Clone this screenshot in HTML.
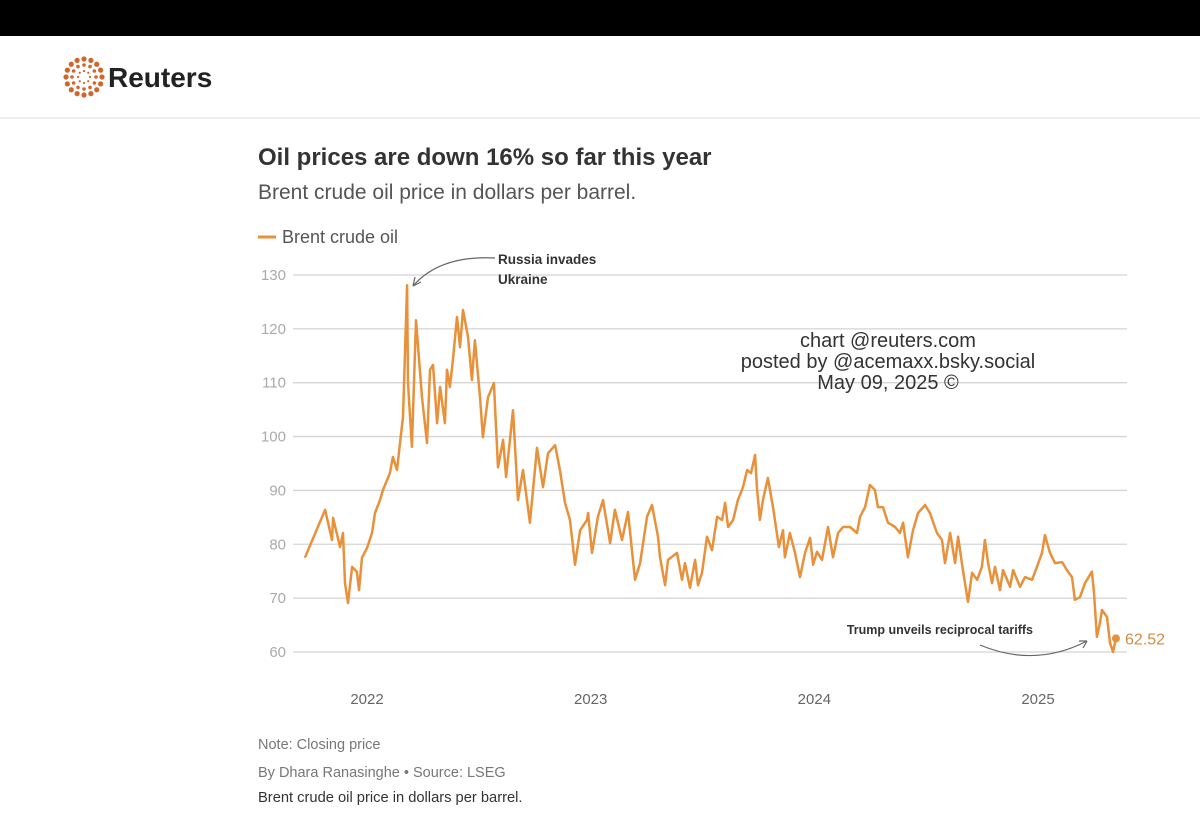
<!DOCTYPE html>
<html><head><meta charset="utf-8"><style>
html,body{margin:0;padding:0;background:#fff;}
svg{display:block;font-family:"Liberation Sans",sans-serif;}
</style></head><body>
<svg id="chart" width="1200" height="827" viewBox="0 0 1200 827">
<rect x="0" y="0" width="1200" height="36" fill="#000"/>
<g id="logo"></g>
<text x="108" y="87" font-size="28" font-weight="bold" fill="#222">Reuters</text>
<line x1="0" y1="118" x2="1200" y2="118" stroke="#ddd" stroke-width="1"/>
<text x="258" y="165" font-size="24" font-weight="bold" fill="#333">Oil prices are down 16% so far this year</text>
<text x="258" y="199" font-size="21" fill="#555">Brent crude oil price in dollars per barrel.</text>
<g>
<line x1="258" y1="237" x2="276" y2="237" stroke="#e8913a" stroke-width="3"/>
<text x="282" y="243" font-size="18" fill="#555">Brent crude oil</text>
</g>
<g id="grid"></g>
<g id="yticks"></g>
<g id="xticks"></g>
<g font-size="20" fill="#333" text-anchor="middle">
<text x="888" y="347">chart @reuters.com</text>
<text x="888" y="368">posted by @acemaxx.bsky.social</text>
<text x="888" y="389">May 09, 2025 ©</text>
</g>
<path id="line" fill="none" stroke="#e8913a" stroke-width="2.5" stroke-linejoin="round"/>
<circle id="enddot" r="4" fill="#e8913a"/>
<text id="endlabel" font-size="16" fill="#d08c4a">62.52</text>
<g>
<path d="M495,258 Q440,255 413,286" fill="none" stroke="#666" stroke-width="1.2"/>
<path d="M413,286 l2,-9 M413,286 l8,-4" fill="none" stroke="#666" stroke-width="1.2"/>
<text x="498" y="264" font-size="13.5" font-weight="bold" fill="#333">Russia invades</text>
<text x="498" y="284" font-size="13.5" font-weight="bold" fill="#333">Ukraine</text>
</g>
<g>
<text x="1033" y="634" font-size="12.5" font-weight="bold" fill="#333" text-anchor="end">Trump unveils reciprocal tariffs</text>
<path d="M980,645 Q1035,668 1087,641" fill="none" stroke="#666" stroke-width="1.2"/>
<path d="M1087,641 l-8,0 M1087,641 l-4,7" fill="none" stroke="#666" stroke-width="1.2"/>
</g>
<text x="258" y="749" font-size="14.5" fill="#777">Note: Closing price</text>
<text x="258" y="777" font-size="14.5" fill="#777">By Dhara Ranasinghe  • Source: LSEG</text>
<text x="258" y="802" font-size="14.7" fill="#333">Brent crude oil price in dollars per barrel.</text>
</svg>
<script>
// months since Jan 2022
const months=[-3.33,-2.25,-1.88,-1.82,-1.45,-1.29,-1.18,-1.02,-0.80,-0.54,-0.43,-0.27,0,0.27,0.43,0.70,0.86,1.23,1.39,1.61,1.77,1.93,2.15,2.20,2.41,2.63,2.95,3.22,3.38,3.54,3.76,3.92,4.18,4.29,4.45,4.61,4.83,4.99,5.15,5.42,5.63,5.79,6.06,6.22,6.49,6.81,7.03,7.30,7.46,7.83,8.10,8.37,8.74,9.12,9.44,9.71,10.09,10.35,10.62,10.89,11.16,11.43,11.80,11.86,12.07,12.39,12.66,13.04,13.30,13.68,14.00,14.38,14.65,15.02,15.29,15.61,15.72,15.99,16.15,16.63,16.90,17.06,17.33,17.60,17.76,17.97,18.24,18.51,18.78,19.05,19.21,19.37,19.64,19.90,20.17,20.39,20.60,20.82,20.92,21.08,21.24,21.51,21.78,22.10,22.32,22.42,22.69,22.96,23.23,23.50,23.77,23.93,24.14,24.41,24.73,25.00,25.27,25.54,25.91,26.29,26.45,26.72,26.98,27.25,27.41,27.68,27.95,28.33,28.59,28.76,29.02,29.29,29.56,29.94,30.20,30.58,30.85,31.01,31.28,31.55,31.71,31.97,32.24,32.46,32.73,32.99,33.15,33.32,33.53,33.69,33.96,34.12,34.50,34.66,35.03,35.30,35.68,35.94,36.21,36.37,36.64,36.91,37.29,37.55,37.82,37.98,38.25,38.52,38.89,39.00,39.16,39.32,39.43,39.70,39.86,40.02,40.18];
const prices=[77.5,86.4,80.8,84.9,79.5,82.1,72.8,69.1,75.8,74.9,71.5,77.5,79.3,82.1,85.8,88.2,90.1,93.2,96.2,93.8,98.8,103.6,128.1,109.9,98.1,121.6,107.3,98.8,112.4,113.3,102.5,109.2,102.5,112.4,109.2,114.2,122.2,116.6,123.5,118.5,110.5,117.9,107.3,99.9,107.3,109.9,94.3,99.4,92.5,104.9,88.2,93.8,84.0,97.9,90.6,96.9,98.4,93.8,87.7,84.5,76.2,82.6,84.5,85.8,78.4,85.1,88.2,80.2,86.4,80.8,86.0,73.4,76.5,85.1,87.3,81.4,77.6,72.4,77.1,78.4,73.4,76.5,71.9,77.1,72.4,74.7,81.4,78.9,85.1,84.5,87.7,83.2,84.5,88.2,90.6,93.8,93.2,96.6,90.6,84.5,88.2,92.3,86.9,79.5,82.6,77.6,82.1,78.4,73.9,78.4,81.2,76.2,78.6,77.1,83.2,77.6,82.1,83.2,83.2,82.1,85.1,86.9,91.0,90.1,86.9,86.9,84.0,83.2,82.1,84.0,77.6,82.6,85.8,87.3,85.8,82.1,80.8,76.5,82.1,76.5,81.4,75.2,69.3,74.7,73.4,75.8,80.8,76.5,72.8,75.8,71.5,75.2,72.1,75.2,72.1,73.9,73.4,75.8,78.4,81.7,78.4,76.5,76.7,75.2,73.9,69.7,70.2,72.8,74.9,71.0,62.8,65.4,67.8,66.5,61.7,60.0,62.52];
const yTicks=[60,70,80,90,100,110,120,130];
const xTickLabels=["2022","2023","2024","2025"];
const xTickMonths=[0,12,24,36];

const NS="http://www.w3.org/2000/svg";
const x=m=>367+m*18.64;
const y=v=>652-(v-60)*5.386;
const grid=document.getElementById('grid'),yt=document.getElementById('yticks'),xt=document.getElementById('xticks');
yTicks.forEach(v=>{
 const l=document.createElementNS(NS,'line');
 l.setAttribute('x1',293);l.setAttribute('x2',1127);l.setAttribute('y1',y(v));l.setAttribute('y2',y(v));
 l.setAttribute('stroke','#d4d4d4');l.setAttribute('stroke-width','1.3');
 
 
 grid.appendChild(l);
 const t=document.createElementNS(NS,'text');
 t.setAttribute('x',286);t.setAttribute('y',y(v)+5);t.setAttribute('text-anchor','end');
 t.setAttribute('font-size','15');t.setAttribute('fill','#aaa');t.textContent=v;
 
 
 yt.appendChild(t);
});
xTickLabels.forEach((s,i)=>{
 const t=document.createElementNS(NS,'text');
 t.setAttribute('x',x(xTickMonths[i]));t.setAttribute('y',704);t.setAttribute('text-anchor','middle');
 t.setAttribute('font-size','15');t.setAttribute('fill','#666');t.textContent=s;
 
 
 xt.appendChild(t);
});
document.getElementById('line').setAttribute('d',months.map((m,i)=>(i?'L':'M')+x(m).toFixed(1)+','+y(prices[i]).toFixed(1)).join(''));
const n=months.length-1;
const d=document.getElementById('enddot');d.setAttribute('cx',x(months[n]));d.setAttribute('cy',y(prices[n]));
const el=document.getElementById('endlabel');el.setAttribute('x',x(months[n])+9);el.setAttribute('y',y(prices[n])+6);
// logo dots
const logo=document.getElementById('logo');
[[18,16,2.6],[12,12,1.8],[6,8,1.1]].forEach(([r,c,s])=>{
 for(let k=0;k<c;k++){const a=k/c*2*Math.PI;
  const ci=document.createElementNS(NS,'circle');
  ci.setAttribute('cx',84+r*Math.cos(a));ci.setAttribute('cy',77+r*Math.sin(a));ci.setAttribute('r',s);ci.setAttribute('fill','#d0662b');
  
  
  logo.appendChild(ci);}
});
</script>
</body></html>
